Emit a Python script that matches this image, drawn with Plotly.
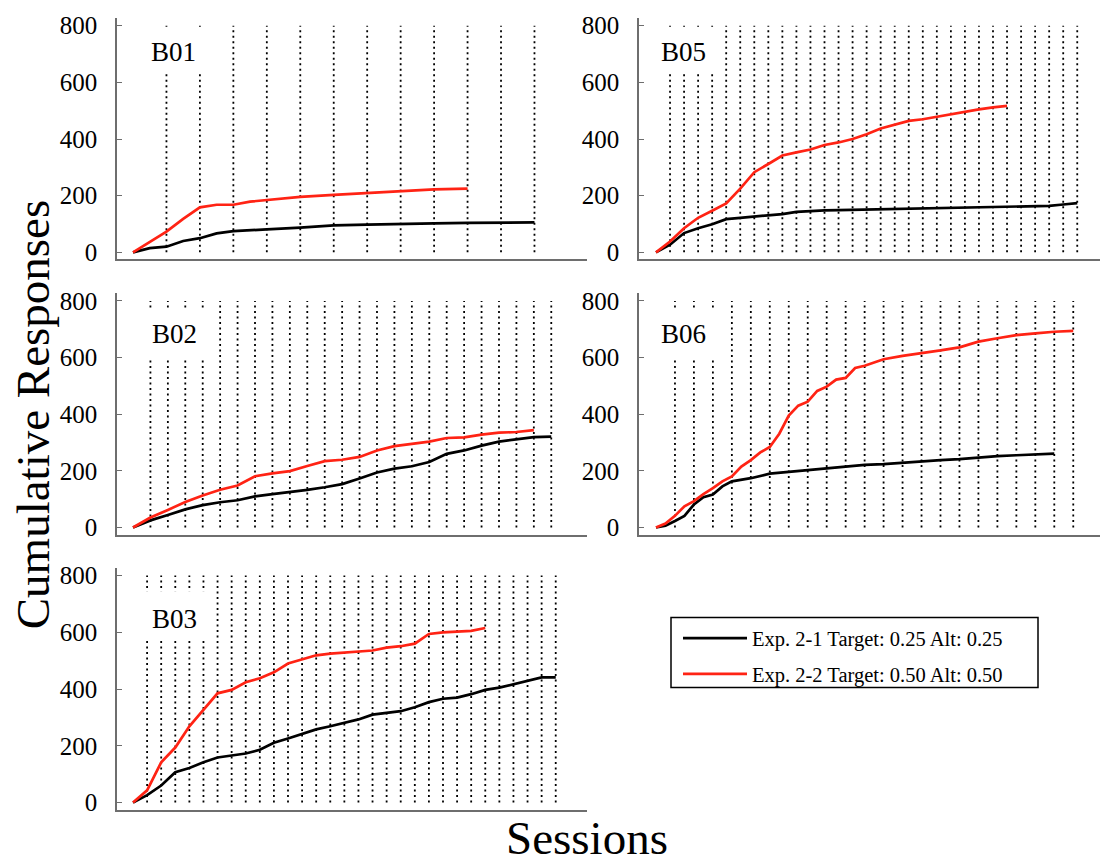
import plotly.graph_objects as go

# ---------------- data ----------------
panel_names = ["B01", "B05", "B02", "B06", "B03"]
session_counts = [12, 30, 24, 22, 30]   # dotted session boundaries per panel

legend_names = ["Exp. 2-1 Target: 0.25 Alt: 0.25", "Exp. 2-2 Target: 0.50 Alt: 0.50"]
y_ticks = [0, 200, 400, 600, 800]

b01_black_x = [0, 0.5, 1, 1.5, 2, 2.5, 3, 3.5, 4, 5, 6, 7, 8, 9, 10, 11, 12]
b01_black_y = [0, 15, 20, 40, 50, 67, 75, 79, 81, 87, 95, 98, 99, 102, 104, 106, 106]
b01_red_x = [0, 0.5, 1, 1.5, 2, 2.5, 3, 3.5, 4, 5, 6, 7, 8, 9, 10]
b01_red_y = [0, 38, 73, 118, 159, 168, 168, 179, 185, 196, 203, 209, 214, 222, 225]

b05_black_x = list(range(0, 31))
b05_black_y = [0, 27, 68, 85, 99, 117, 122, 126, 129, 135, 143, 146, 148, 149, 150, 152,
               154, 155, 155, 156, 157, 159, 160, 161, 161, 162, 163, 164, 164, 169, 174]
b05_red_x = list(range(0, 26))
b05_red_y = [0, 38, 85, 122, 147, 173, 225, 283, 312, 342, 353, 363, 379, 388, 400, 417,
             437, 450, 464, 470, 479, 487, 497, 505, 512, 517]

b02_black_x = list(range(0, 25))
b02_black_y = [0, 25, 44, 64, 79, 89, 96, 110, 118, 125, 133, 142, 153, 173, 194, 208,
               216, 231, 260, 272, 289, 303, 312, 319, 321]
b02_red_x = list(range(0, 24))
b02_red_y = [0, 35, 62, 90, 113, 133, 148, 181, 191, 199, 217, 234, 239, 249, 272, 287,
             295, 303, 316, 318, 328, 335, 337, 344]

b06_black_x = [0, 0.5, 1, 1.5, 2, 2.5, 3, 3.5, 4] + list(range(5, 22))
b06_black_y = [0, 6, 23, 41, 81, 107, 116, 145, 163, 174, 190, 197, 203, 209, 215, 221,
               224, 229, 235, 238, 241, 247, 252, 255, 259, 261]
b06_red_x = [0, 0.5, 1, 1.5, 2, 2.5, 3, 3.5, 4, 4.5, 5, 5.5, 6, 6.5, 7, 7.5, 8, 8.5, 9,
             9.5, 10, 10.5, 11] + list(range(12, 23))
b06_red_y = [0, 14, 41, 75, 93, 118, 139, 163, 180, 215, 238, 265, 284, 331, 395, 430,
             444, 482, 497, 522, 528, 563, 571, 594, 606, 615, 625, 636, 656, 668, 679,
             685, 691, 694]

b03_black_x = list(range(0, 31))
b03_black_y = [0, 26, 60, 107, 122, 142, 159, 167, 173, 186, 211, 226, 243, 258, 269, 281,
               293, 310, 316, 322, 336, 354, 366, 370, 382, 397, 405, 417, 428, 441, 441]
b03_red_x = list(range(0, 26))
b03_red_y = [0, 43, 142, 194, 269, 327, 385, 397, 424, 438, 459, 490, 504, 519, 525, 528,
             533, 536, 546, 551, 560, 594, 600, 603, 605, 615]

black_series = [(b01_black_x, b01_black_y), (b05_black_x, b05_black_y),
                (b02_black_x, b02_black_y), (b06_black_x, b06_black_y),
                (b03_black_x, b03_black_y)]
red_series = [(b01_red_x, b01_red_y), (b05_red_x, b05_red_y),
              (b02_red_x, b02_red_y), (b06_red_x, b06_red_y),
              (b03_red_x, b03_red_y)]

# ---------------- layout geometry ----------------
W, H = 1102, 866
FONT = "Liberation Serif, Times New Roman, serif"
BLACK = "#000000"
RED = "#ff2314"
AXIS = "#6e6e6e"

col_px = {0: (117, 587), 1: (639, 1100)}
row_px = {0: (13, 258), 1: (292, 537), 2: (570.5, 816)}
panel_pos = [(0, 0), (0, 1), (1, 0), (1, 1), (2, 0)]   # (row, col)
x_ranges = [(-0.478, 13.57), (-1.21, 31.62), (-0.918, 26.05), (-0.896, 23.41), (-1.136, 32.22)]
y_range = (-25, 828)

label_pos = [(1.2, 706), (1.96, 706), (2.38, 682), (1.45, 682), (2.95, 647)]
box_pos = [(0.2, 2.6, 630, 790), (-0.8, 4.55, 630, 790), (0.4, 4.6, 602, 772),
           (-0.6, 3.55, 598, 772), (0.5, 5.5, 574, 745)]
legend_box_px = (671, 621, 1038, 692)

fig = go.Figure()
layout = dict(
    width=W, height=H,
    margin=dict(l=0, r=0, t=0, b=0),
    paper_bgcolor="white", plot_bgcolor="white",
    font=dict(family=FONT, color="black"),
    showlegend=True,
)
shapes = []
annotations = []

for i, name in enumerate(panel_names):
    r, c = panel_pos[i]
    sfx = "" if i == 0 else str(i + 1)
    xa, ya = "x" + sfx, "y" + sfx
    x0p, x1p = col_px[c]
    y0p, y1p = row_px[r]
    layout["xaxis" + sfx] = dict(
        domain=[x0p / W, x1p / W], range=list(x_ranges[i]), anchor=ya,
        showline=True, linecolor=AXIS, linewidth=1.6, showgrid=False, zeroline=False,
        showticklabels=False, ticks="", fixedrange=True)
    layout["yaxis" + sfx] = dict(
        domain=[1 - y1p / H, 1 - y0p / H], range=list(y_range), anchor=xa,
        showline=True, linecolor=AXIS, linewidth=1.6, showgrid=False, zeroline=False,
        tickvals=y_ticks, ticks="inside", ticklen=5, tickwidth=1.4, tickcolor=AXIS,
        tickfont=dict(family=FONT, size=25, color="black"), ticklabelstandoff=13,
        fixedrange=True)

    # dotted session boundaries
    vx, vy = [], []
    for k in range(1, session_counts[i] + 1):
        vx += [k, k, None]
        vy += [0, 800, None]
    fig.add_trace(go.Scatter(x=vx, y=vy, mode="lines", xaxis=xa, yaxis=ya,
                             line=dict(color="black", width=1.8, dash="2px,3.5px"),
                             showlegend=False, hoverinfo="skip"))

    bx, by = black_series[i]
    rx, ry = red_series[i]
    fig.add_trace(go.Scatter(x=bx, y=by, mode="lines", xaxis=xa, yaxis=ya,
                             line=dict(color=BLACK, width=2.7), name=legend_names[0],
                             legendgroup="g1", showlegend=(i == 0)))
    fig.add_trace(go.Scatter(x=rx, y=ry, mode="lines", xaxis=xa, yaxis=ya,
                             line=dict(color=RED, width=2.7), name=legend_names[1],
                             legendgroup="g2", showlegend=(i == 0)))

    bx0, bx1, by0, by1 = box_pos[i]
    shapes.append(dict(type="rect", xref=xa, yref=ya, x0=bx0, x1=bx1, y0=by0, y1=by1,
                       fillcolor="white", line=dict(width=0), layer="above"))
    lx, ly = label_pos[i]
    annotations.append(dict(text=name, x=lx, y=ly, xref=xa, yref=ya, showarrow=False,
                            xanchor="center", yanchor="middle",
                            font=dict(family=FONT, size=27, color="black")))

# legend frame
lx0, ly0, lx1, ly1 = legend_box_px
shapes.append(dict(type="rect", xref="paper", yref="paper",
                   x0=lx0 / W, x1=lx1 / W, y0=1 - ly1 / H, y1=1 - ly0 / H,
                   fillcolor="rgba(0,0,0,0)", line=dict(color="black", width=1.5),
                   layer="above"))

annotations.append(dict(text="Cumulative Responses", x=33 / W, y=1 - 415 / H,
                        xref="paper", yref="paper", showarrow=False, textangle=-90,
                        xanchor="center", yanchor="middle",
                        font=dict(family=FONT, size=47, color="black")))
annotations.append(dict(text="Sessions", x=587 / W, y=1 - 845 / H,
                        xref="paper", yref="paper", showarrow=False,
                        xanchor="center", yanchor="middle",
                        font=dict(family=FONT, size=47, color="black")))

layout["shapes"] = shapes
layout["annotations"] = annotations
layout["legend"] = dict(
    x=(lx0 + 7) / W, y=1 - (ly0 + 1) / H, xanchor="left", yanchor="top",
    borderwidth=0, bgcolor="rgba(0,0,0,0)",
    font=dict(family=FONT, size=20.5, color="black"),
    traceorder="grouped", tracegroupgap=6, itemwidth=64)

fig.update_layout(**layout)
fig.write_html("out.html", config={"displayModeBar": False},
               post_script="document.body.style.margin='0';")
